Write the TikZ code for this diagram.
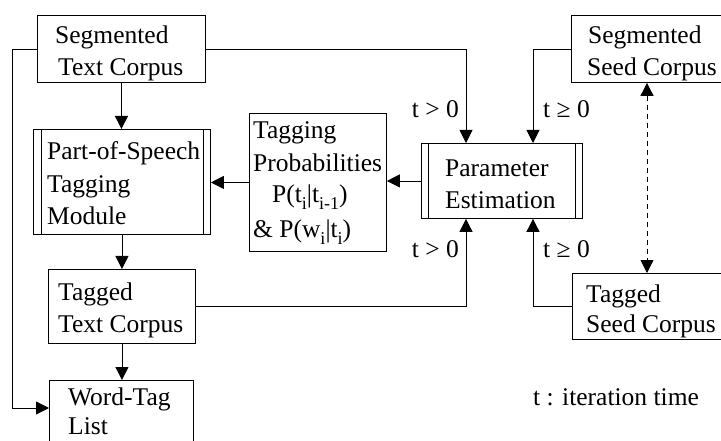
\documentclass[tikz,border=0pt]{standalone}
\usepackage{fontspec}
\setmainfont{Liberation Serif}
\usetikzlibrary{arrows.meta}
\newcommand{\lsub}[1]{\raisebox{-7pt}{\fontsize{18}{18}\selectfont #1}}
\begin{document}
\begin{tikzpicture}[x=1pt,y=-1pt,
  box/.style={draw, rectangle, inner sep=0pt, anchor=north west, line width=0.9pt},
  txt/.style={anchor=base west, inner sep=0pt, font=\fontsize{25.5}{30}\selectfont},
  lbl/.style={inner sep=0pt, font=\fontsize{25.5}{30}\selectfont},
  arr/.style={line width=0.8pt, -{Triangle[length=13pt,width=13pt]}},
  darr/.style={line width=0.8pt, dash pattern=on 5pt off 4pt, {Triangle[length=13pt,width=13pt]}-{Triangle[length=13pt,width=13pt]}}]
\useasboundingbox (0,0) rectangle (721,441);

% boxes
\node[box, minimum width=168pt, minimum height=67pt] (stc) at (37,15) {};
\node[box, minimum width=177pt, minimum height=105pt] (pos) at (33,129) {};
\node[box, minimum width=137pt, minimum height=138pt] (tp) at (249,113) {};
\node[box, minimum width=161pt, minimum height=75pt] (pe) at (421,143) {};
\node[box, minimum width=160pt, minimum height=67pt] (ssc) at (571,15) {};
\node[box, minimum width=160pt, minimum height=66pt] (tsc) at (572,273) {};
\node[box, minimum width=147pt, minimum height=74pt] (ttc) at (48,269) {};
\node[box, minimum width=144pt, minimum height=80pt] (wtl) at (49,380) {};

% inner double lines
\draw[line width=0.8pt] ([xshift=8pt]pos.north west) -- ([xshift=8pt]pos.south west);
\draw[line width=0.8pt] ([xshift=-8pt]pos.north east) -- ([xshift=-8pt]pos.south east);
\draw[line width=0.8pt] ([xshift=7pt]pe.north west) -- ([xshift=7pt]pe.south west);
\draw[line width=0.8pt] ([xshift=-8pt]pe.north east) -- ([xshift=-8pt]pe.south east);

% texts
\node[txt] (t1) at (55,44) {Segmented};
\node[txt] (t2) at (58,76) {Text Corpus};
\node[txt] (t3) at (47,160) {Part-of-Speech};
\node[txt] (t4) at (47,193) {Tagging};
\node[txt] (t5) at (47,225) {Module};
\node[txt] (t6) at (253,139) {Tagging};
\node[txt] (t7) at (253,172) {Probabilities};
\node[txt] (t8) at (272,203) {P(t\lsub{i}|t\lsub{i-1})};
\node[txt] (t9) at (253,237) {\&~P(w\lsub{i}|t\lsub{i})};
\node[txt] (t10) at (445,177) {Parameter};
\node[txt] (t11) at (445,209) {Estimation};
\node[txt] (t12) at (588,44) {Segmented};
\node[txt] (t13) at (587,76) {Seed Corpus};
\node[txt] (t14) at (586,302) {Tagged};
\node[txt] (t15) at (586,332) {Seed Corpus};
\node[txt] (t16) at (58,300) {Tagged};
\node[txt] (t17) at (58,332) {Text Corpus};
\node[txt] (t18) at (68,405) {Word-Tag};
\node[txt] (t19) at (68,434) {List};

% labels
\node[lbl, anchor=base east] (l1) at (459,118) {t > 0};
\node[lbl, anchor=base west] (l2) at (543,118) {t ≥ 0};
\node[lbl, anchor=base east] (l3) at (459,258) {t > 0};
\node[lbl, anchor=base west] (l4) at (543,258) {t ≥ 0};
\node[lbl, anchor=base west] (note) at (533,405) {t : iteration time};

% connectors
\draw[arr] (stc.south) -- (stc.south |- pos.north);
\draw[arr] (pos.south) -- (pos.south |- ttc.north);
\draw[arr] (ttc.south) -- (ttc.south |- wtl.north);
\draw[arr] (tp.west) -- (tp.west -| pos.east);
\draw[arr] (pe.west) -- (pe.west -| tp.east);
\draw[arr] (stc.east) -| ([xshift=45pt]pe.north west);
\draw[arr] (ssc.west) -| ([xshift=112pt]pe.north west);
\draw[arr] (ttc.east) -| ([xshift=45pt]pe.south west);
\draw[arr] (tsc.west) -| ([xshift=112pt]pe.south west);
\draw[arr] (stc.west) -- ++(-25,0) |- ([yshift=-28pt]wtl.north west);
\draw[darr] ([xshift=76pt]ssc.south west) -- ([xshift=75pt]tsc.north west);
\end{tikzpicture}
\end{document}
